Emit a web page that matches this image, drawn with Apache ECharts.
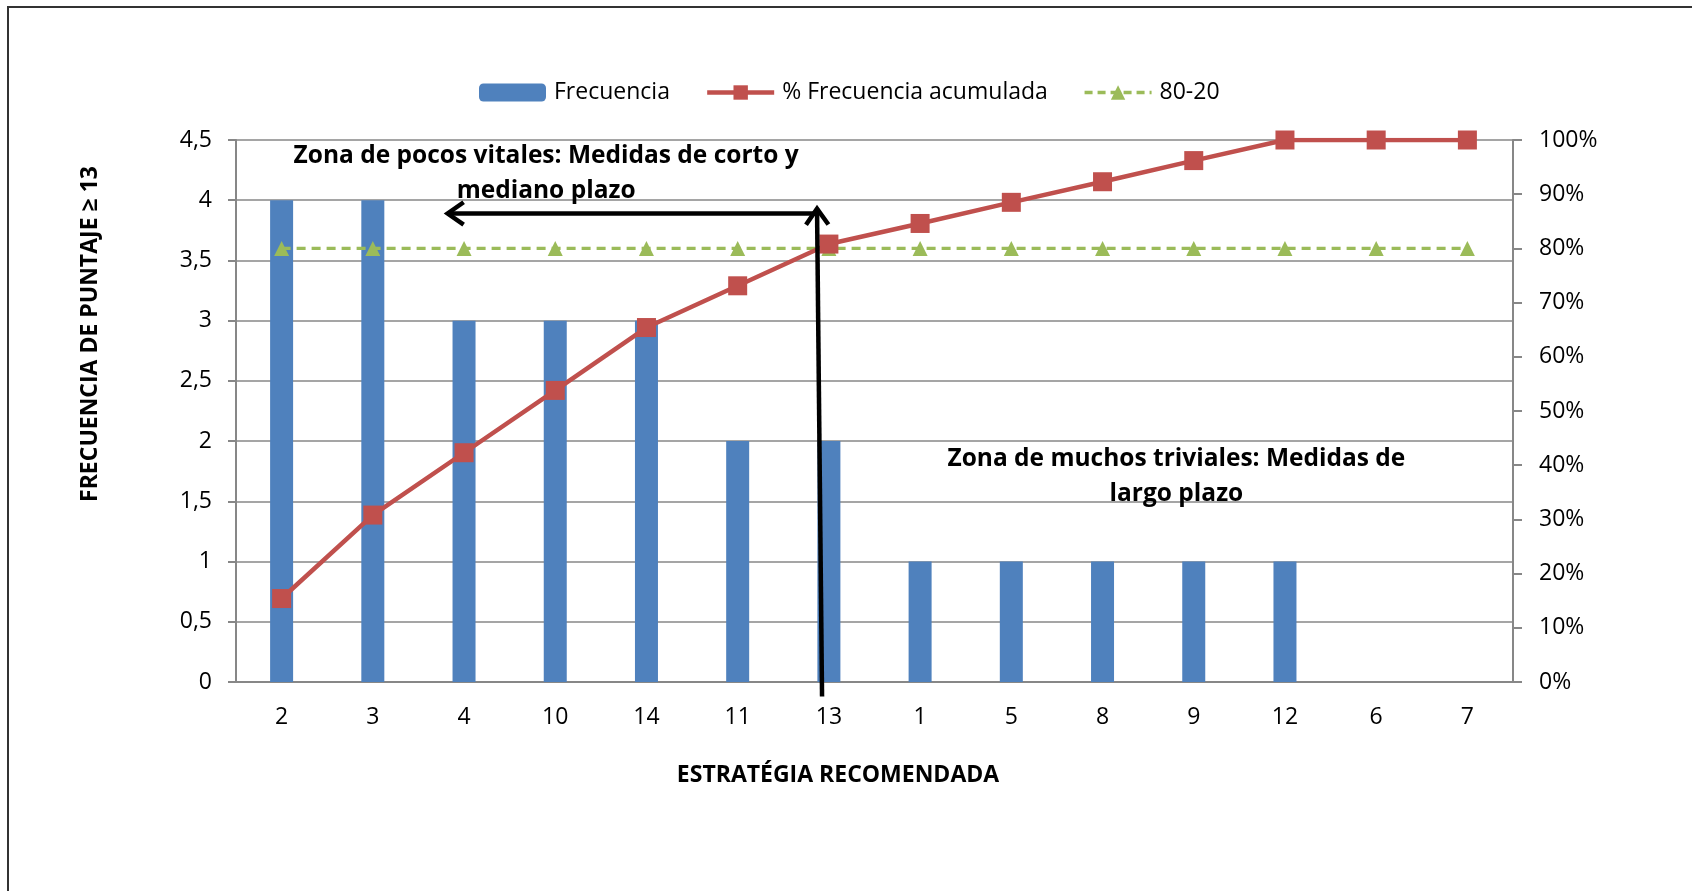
<!DOCTYPE html>
<html>
<head>
<meta charset="utf-8">
<script src="https://cdn.jsdelivr.net/npm/echarts@6/dist/echarts.min.js"></script>
<style>
  html, body { margin: 0; padding: 0; background: #ffffff; }
  #chart { width: 1692px; height: 891px; }
</style>
</head>
<body>
<div id="chart"></div>
<script>
// Estrategias ordenadas por frecuencia (diagrama de Pareto)
const categories = ['2', '3', '4', '10', '14', '11', '13', '1', '5', '8', '9', '12', '6', '7'];
const frecuencia = [4, 4, 3, 3, 3, 2, 2, 1, 1, 1, 1, 1, 0, 0];
const frecuenciaAcumulada = [15.4, 30.8, 42.3, 53.8, 65.4, 73.1, 80.8, 84.6, 88.5, 92.3, 96.2, 100, 100, 100];
const linea8020 = [80, 80, 80, 80, 80, 80, 80, 80, 80, 80, 80, 80, 80, 80];

const FONT = '"Open Sans", "DejaVu Sans", sans-serif';
const GRID_COLOR = '#878787';
const TEXT_COLOR = '#000000';
const FS = 23;

const chart = echarts.init(document.getElementById('chart'), null, { renderer: 'canvas' });

const option = {
  backgroundColor: '#ffffff',
  animation: false,
  textStyle: { fontFamily: FONT },
  grid: { left: 236, right: 179, top: 140, bottom: 209, containLabel: false },
  legend: {
    left: 479,
    top: 81,
    padding: 0,
    itemWidth: 67,
    itemHeight: 18,
    itemGap: 35,
    textStyle: { fontFamily: FONT, fontSize: FS, color: TEXT_COLOR, padding: [0, 0, 0, 3] },
    data: [
      { name: 'Frecuencia' },
      { name: '% Frecuencia acumulada', lineStyle: { width: 4.5 } },
      { name: '80-20', lineStyle: { width: 3.5, type: [8, 5] } }
    ]
  },
  xAxis: {
    type: 'category',
    data: categories,
    axisLine: { lineStyle: { color: GRID_COLOR, width: 2 } },
    axisTick: { show: false },
    axisLabel: { fontFamily: FONT, fontSize: FS, color: TEXT_COLOR, margin: 24 }
  },
  yAxis: [
    {
      type: 'value',
      min: 0,
      max: 4.5,
      interval: 0.5,
      axisLine: { show: true, lineStyle: { color: GRID_COLOR, width: 2 } },
      axisTick: { show: true, length: 8, lineStyle: { color: GRID_COLOR, width: 2 } },
      splitLine: { show: true, lineStyle: { color: GRID_COLOR, width: 1.5 } },
      axisLabel: {
        fontFamily: FONT, fontSize: FS, color: TEXT_COLOR, margin: 24,
        formatter: v => String(v).replace('.', ',')
      }
    },
    {
      type: 'value',
      min: 0,
      max: 100,
      interval: 10,
      position: 'right',
      axisLine: { show: true, lineStyle: { color: GRID_COLOR, width: 2 } },
      axisTick: { show: true, length: 9, lineStyle: { color: GRID_COLOR, width: 2 } },
      splitLine: { show: false },
      axisLabel: {
        fontFamily: FONT, fontSize: FS, color: TEXT_COLOR, margin: 26,
        formatter: v => v + '%'
      }
    }
  ],
  series: [
    {
      name: 'Frecuencia',
      type: 'bar',
      yAxisIndex: 0,
      data: frecuencia,
      barWidth: 23,
      itemStyle: { color: '#4F81BD' },
      z: 1
    },
    {
      name: '80-20',
      type: 'line',
      yAxisIndex: 1,
      data: linea8020,
      symbol: 'triangle',
      symbolSize: 15,
      itemStyle: { color: '#9BBB59' },
      lineStyle: { color: '#9BBB59', width: 3.2, type: [9, 6] },
      z: 3
    },
    {
      name: '% Frecuencia acumulada',
      type: 'line',
      yAxisIndex: 1,
      data: frecuenciaAcumulada,
      symbol: 'rect',
      symbolSize: 19,
      itemStyle: { color: '#C0504D' },
      lineStyle: { color: '#C0504D', width: 4.5 },
      z: 4
    }
  ]
};

chart.setOption(option);

// Posiciones en unidades de los ejes: categoría (fraccionaria) y valor del eje izquierdo
function px(catPos, val) {
  const x0 = chart.convertToPixel({ xAxisIndex: 0 }, 0);
  const x1 = chart.convertToPixel({ xAxisIndex: 0 }, 1);
  const y = chart.convertToPixel({ yAxisIndex: 0 }, val);
  return [x0 + catPos * (x1 - x0), y];
}

function arrow(from, to, head) {
  const dx = to[0] - from[0], dy = to[1] - from[1];
  const len = Math.hypot(dx, dy);
  const ux = dx / len, uy = dy / len;
  const bx = to[0] - ux * head, by = to[1] - uy * head;
  const nx = -uy * head * 0.7, ny = ux * head * 0.7;
  const style = { stroke: '#000000', lineWidth: 4.5, fill: null, lineJoin: 'miter' };
  return [
    { type: 'line', z: 100, shape: { x1: from[0], y1: from[1], x2: to[0], y2: to[1] }, style: style },
    { type: 'polyline', z: 100, shape: { points: [[bx + nx, by + ny], to, [bx - nx, by - ny]] }, style: style }
  ];
}

const zonaFont = 'bold 24.5px ' + FONT;
const tituloFont = 'bold 23px ' + FONT;
const zonaVitales = px(2.9, 4.22);
const zonaTriviales = px(9.81, 1.71);
const flechaEsquina = px(5.87, 3.89);
const flechaIzq = px(1.82, 3.89);
const flechaBase = px(5.925, -0.12);
const flechaTope = px(5.87, 3.93);

chart.setOption({
  graphic: [
    {
      type: 'rect', z: -10, silent: true,
      shape: { x: 8, y: 7, width: 1800, height: 1000 },
      style: { fill: null, stroke: '#333333', lineWidth: 2 }
    },
    {
      type: 'text', z: 50,
      x: zonaVitales[0], y: zonaVitales[1],
      style: {
        text: 'Zona de pocos vitales: Medidas de corto y\nmediano plazo',
        font: zonaFont, fill: TEXT_COLOR, align: 'center', verticalAlign: 'middle', lineHeight: 35
      }
    },
    {
      type: 'text', z: 50,
      x: zonaTriviales[0], y: zonaTriviales[1],
      style: {
        text: 'Zona de muchos triviales: Medidas de\nlargo plazo',
        font: zonaFont, fill: TEXT_COLOR, align: 'center', verticalAlign: 'middle', lineHeight: 35
      }
    },
    {
      type: 'text', z: 50,
      x: 90, y: 334, rotation: Math.PI / 2,
      style: {
        text: 'FRECUENCIA DE PUNTAJE ≥ 13',
        font: tituloFont, fill: TEXT_COLOR, align: 'center', verticalAlign: 'middle'
      }
    },
    {
      type: 'text', z: 50,
      x: 838, y: 775,
      style: {
        text: 'ESTRATÉGIA RECOMENDADA',
        font: tituloFont, fill: TEXT_COLOR, align: 'center', verticalAlign: 'middle'
      }
    },
    ...arrow(flechaEsquina, flechaIzq, 16),
    ...arrow(flechaBase, flechaTope, 16)
  ]
});
</script>
</body>
</html>
